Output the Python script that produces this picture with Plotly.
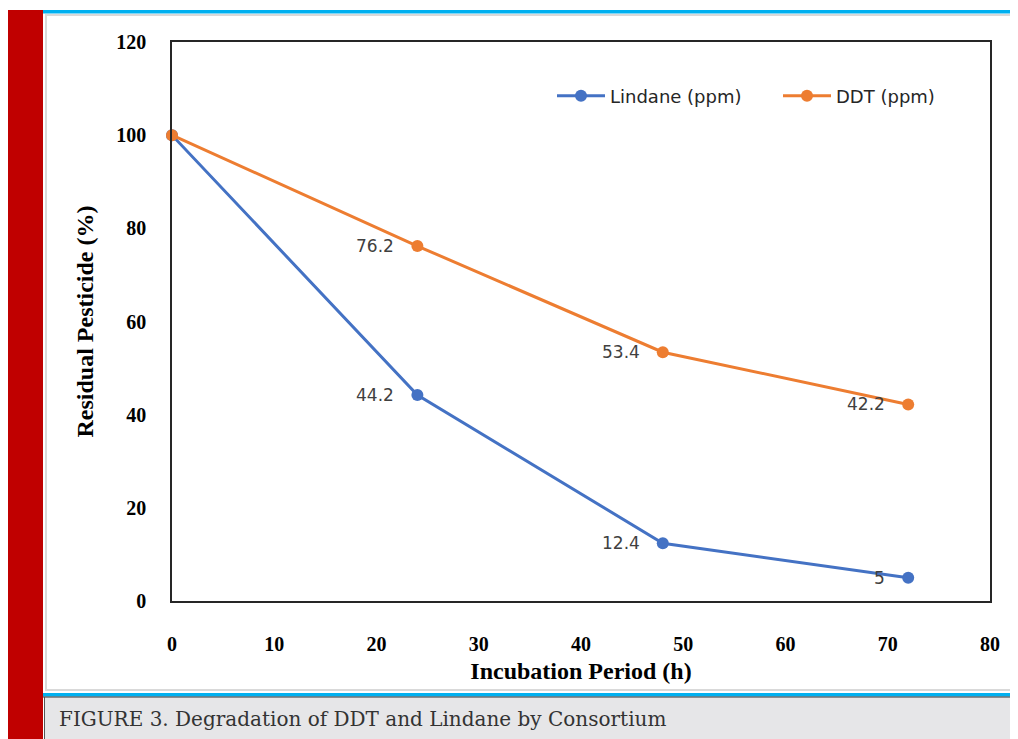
import plotly.graph_objects as go

hours = [0, 24, 48, 72]
lindane = [100, 44.2, 12.4, 5]
ddt = [100, 76.2, 53.4, 42.2]
lindane_labels = ["", "44.2", "12.4", "5"]
ddt_labels = ["", "76.2", "53.4", "42.2"]
x_ticks = [0, 10, 20, 30, 40, 50, 60, 70, 80]
y_ticks = [0, 20, 40, 60, 80, 100, 120]

# page body has an 8px margin; screen coordinates below are converted
OFF = 8
W, H = 1018, 739 - OFF
L, R, T, B = 172, 990, 42, 601  # plot area in screen pixels


def px(x):
    return (x - L) / (R - L)


def py(y):
    return (B - y) / (B - T)


fig = go.Figure()
fig.add_trace(go.Scatter(
    x=hours, y=lindane, mode="lines+markers", name="Lindane (ppm)",
    line=dict(color="#4472c4", width=3), marker=dict(size=12, color="#4472c4"),
    cliponaxis=False, legend="legend"))
fig.add_trace(go.Scatter(
    x=hours, y=ddt, mode="lines+markers", name="DDT (ppm)",
    line=dict(color="#ed7d31", width=3), marker=dict(size=12, color="#ed7d31"),
    cliponaxis=False, legend="legend2"))

shapes = [
    dict(type="rect", xref="paper", yref="paper", x0=px(46), x1=px(1040), y0=py(15), y1=py(690),
         fillcolor="white", line=dict(color="#d9d9d9", width=2), layer="below"),
    dict(type="rect", xref="paper", yref="paper", x0=px(8), x1=px(43), y0=py(10), y1=py(745),
         fillcolor="#c00000", line=dict(width=0), layer="below"),
    dict(type="rect", xref="paper", yref="paper", x0=px(43), x1=px(1040), y0=py(10), y1=py(13.5),
         fillcolor="#00b0f0", line=dict(width=0), layer="below"),
    dict(type="rect", xref="paper", yref="paper", x0=px(44), x1=px(1040), y0=py(697), y1=py(745),
         fillcolor="#e6e6e8", line=dict(width=0), layer="below"),
    dict(type="rect", xref="paper", yref="paper", x0=px(43), x1=px(1040), y0=py(693), y1=py(696.5),
         fillcolor="#00b0f0", line=dict(width=0), layer="below"),
    dict(type="line", xref="paper", yref="paper", x0=px(43), x1=px(1040), y0=py(697), y1=py(697),
         line=dict(color="#333333", width=1), layer="below"),
    dict(type="line", xref="paper", yref="paper", x0=px(44.5), x1=px(44.5), y0=py(697), y1=py(745),
         line=dict(color="#555555", width=1), layer="below"),
]

label_font = dict(family="DejaVu Sans", size=17, color="#404040")
annotations = [
    dict(text="FIGURE 3. Degradation of DDT and Lindane by Consortium", xref="paper", yref="paper",
         x=px(57), y=py(719), xanchor="left", yanchor="middle", showarrow=False,
         font=dict(family="DejaVu Serif", size=20, color="#333333")),
]
for xs, ys, labels in [(hours, lindane, lindane_labels), (hours, ddt, ddt_labels)]:
    for xv, yv, t in zip(xs, ys, labels):
        if t:
            annotations.append(dict(x=xv, y=yv, xref="x", yref="y", text=t, showarrow=False,
                                    xanchor="right", yanchor="middle", xshift=-21,
                                    font=label_font))

legend_font = dict(family="DejaVu Sans", size=18, color="#262626")
tick_font = dict(family="Liberation Serif", size=20, color="black", weight="bold")
title_font = dict(family="Liberation Serif", size=24, color="black")

fig.update_layout(
    width=W, height=H,
    margin=dict(l=L - OFF, r=W - (R - OFF), t=T - OFF, b=H - (B - OFF), autoexpand=False),
    paper_bgcolor="white", plot_bgcolor="white",
    shapes=shapes, annotations=annotations,
    showlegend=True,
    legend=dict(x=px(552), y=py(96), xanchor="left", yanchor="middle",
                font=legend_font, bgcolor="rgba(0,0,0,0)", itemwidth=48),
    legend2=dict(x=px(778), y=py(96), xanchor="left", yanchor="middle",
                 font=legend_font, bgcolor="rgba(0,0,0,0)", itemwidth=48),
    xaxis=dict(range=[0, 80], tickvals=x_ticks, showgrid=False, zeroline=False,
               showline=True, linecolor="#262626", linewidth=1.5, mirror=True,
               ticks="", ticklabelstandoff=24, automargin=False,
               tickfont=tick_font,
               title=dict(text="<b>Incubation Period (h)</b>", font=title_font, standoff=8)),
    yaxis=dict(range=[0, 120], tickvals=y_ticks, showgrid=False, zeroline=False,
               showline=True, linecolor="#262626", linewidth=1.5, mirror=True,
               ticks="", ticklabelstandoff=20, automargin=False,
               tickfont=tick_font,
               title=dict(text="<b>Residual Pesticide (%)</b>", font=title_font, standoff=16)),
)

fig.write_html("out.html")
